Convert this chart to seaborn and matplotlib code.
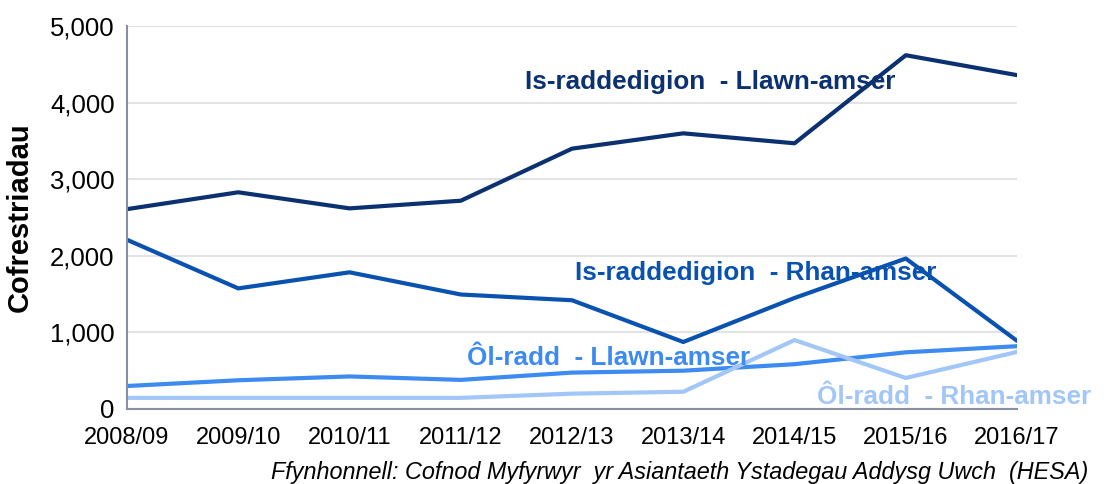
import matplotlib
matplotlib.use("Agg")
import matplotlib.pyplot as plt
import seaborn as sns
import pandas as pd

years = ["2008/09", "2009/10", "2010/11", "2011/12", "2012/13",
         "2013/14", "2014/15", "2015/16", "2016/17"]
series_names = ["Is-raddedigion - Llawn-amser", "Is-raddedigion - Rhan-amser",
                "Ôl-radd - Llawn-amser", "Ôl-radd - Rhan-amser"]
ug_full = [2610, 2830, 2620, 2720, 3400, 3600, 3470, 4620, 4360]
ug_part = [2210, 1575, 1785, 1495, 1420, 875, 1450, 1965, 890]
pg_full = [300, 375, 425, 380, 475, 500, 585, 740, 820]
pg_part = [145, 145, 145, 145, 200, 225, 900, 405, 745]
y_ticks = [0, 1000, 2000, 3000, 4000, 5000]
y_label = "Cofrestriadau"
source = "Ffynhonnell: Cofnod Myfyrwyr  yr Asiantaeth Ystadegau Addysg Uwch  (HESA)"

colors = ["#0B3170", "#0A52B0", "#3D8AF0", "#A2C6F8"]
label_pos = [(3.58, 4270), (4.03, 1780), (3.06, 668), (6.20, 157)]

values = [ug_full, ug_part, pg_full, pg_part]
df = pd.DataFrame({
    "x": [i for _ in values for i in range(len(years))],
    "y": [v for vals in values for v in vals],
    "series": [n for n, vals in zip(series_names, values) for _ in vals],
})

sns.set_theme(style="white")
plt.rcParams["font.family"] = ["Liberation Sans", "DejaVu Sans"]
plt.rcParams["text.color"] = "black"

fig = plt.figure(figsize=(11.18, 4.84), dpi=100)
ax = fig.add_axes([0.1136, 0.155, 0.7961, 0.791])

sns.lineplot(data=df, x="x", y="y", hue="series", palette=colors,
             hue_order=series_names, linewidth=3.0, legend=False, ax=ax,
             sort=False)

ax.set_xlim(0, len(years) - 1)
ax.set_ylim(0, 5000)
ax.set_yticks(y_ticks)
ax.set_yticklabels([f"{t:,}" for t in y_ticks], fontsize=18.5)
ax.set_xticks(range(len(years)))
ax.set_xticklabels(years, fontsize=17)
ax.yaxis.grid(True, color="#E3E3E3", linewidth=1.5)
ax.set_axisbelow(True)
ax.set_xlabel("")
ax.set_ylabel(y_label, fontsize=21, fontweight="bold", color="black")
ax.yaxis.set_label_coords(-0.105, 0.5)
for s in ["top", "right"]:
    ax.spines[s].set_visible(False)
for s in ["left", "bottom"]:
    ax.spines[s].set_color("#8A90A4")
    ax.spines[s].set_linewidth(1.5)
ax.tick_params(axis="both", which="both", direction="out", length=6,
               width=1.5, color="#8A90A4", labelcolor="black", pad=3)
ax.tick_params(axis="x", pad=7)

for name, c, (lx, ly) in zip(series_names, colors, label_pos):
    ax.text(lx, ly, name.replace(" - ", "  - "), color=c, fontsize=18.8,
            fontweight="bold", ha="left", va="center", clip_on=False)

fig.text(1088 / 1118, 1 - 472 / 484, source, fontsize=16.8, style="italic",
         ha="right", va="center", color="black")

fig.savefig("out.png", dpi=100)
